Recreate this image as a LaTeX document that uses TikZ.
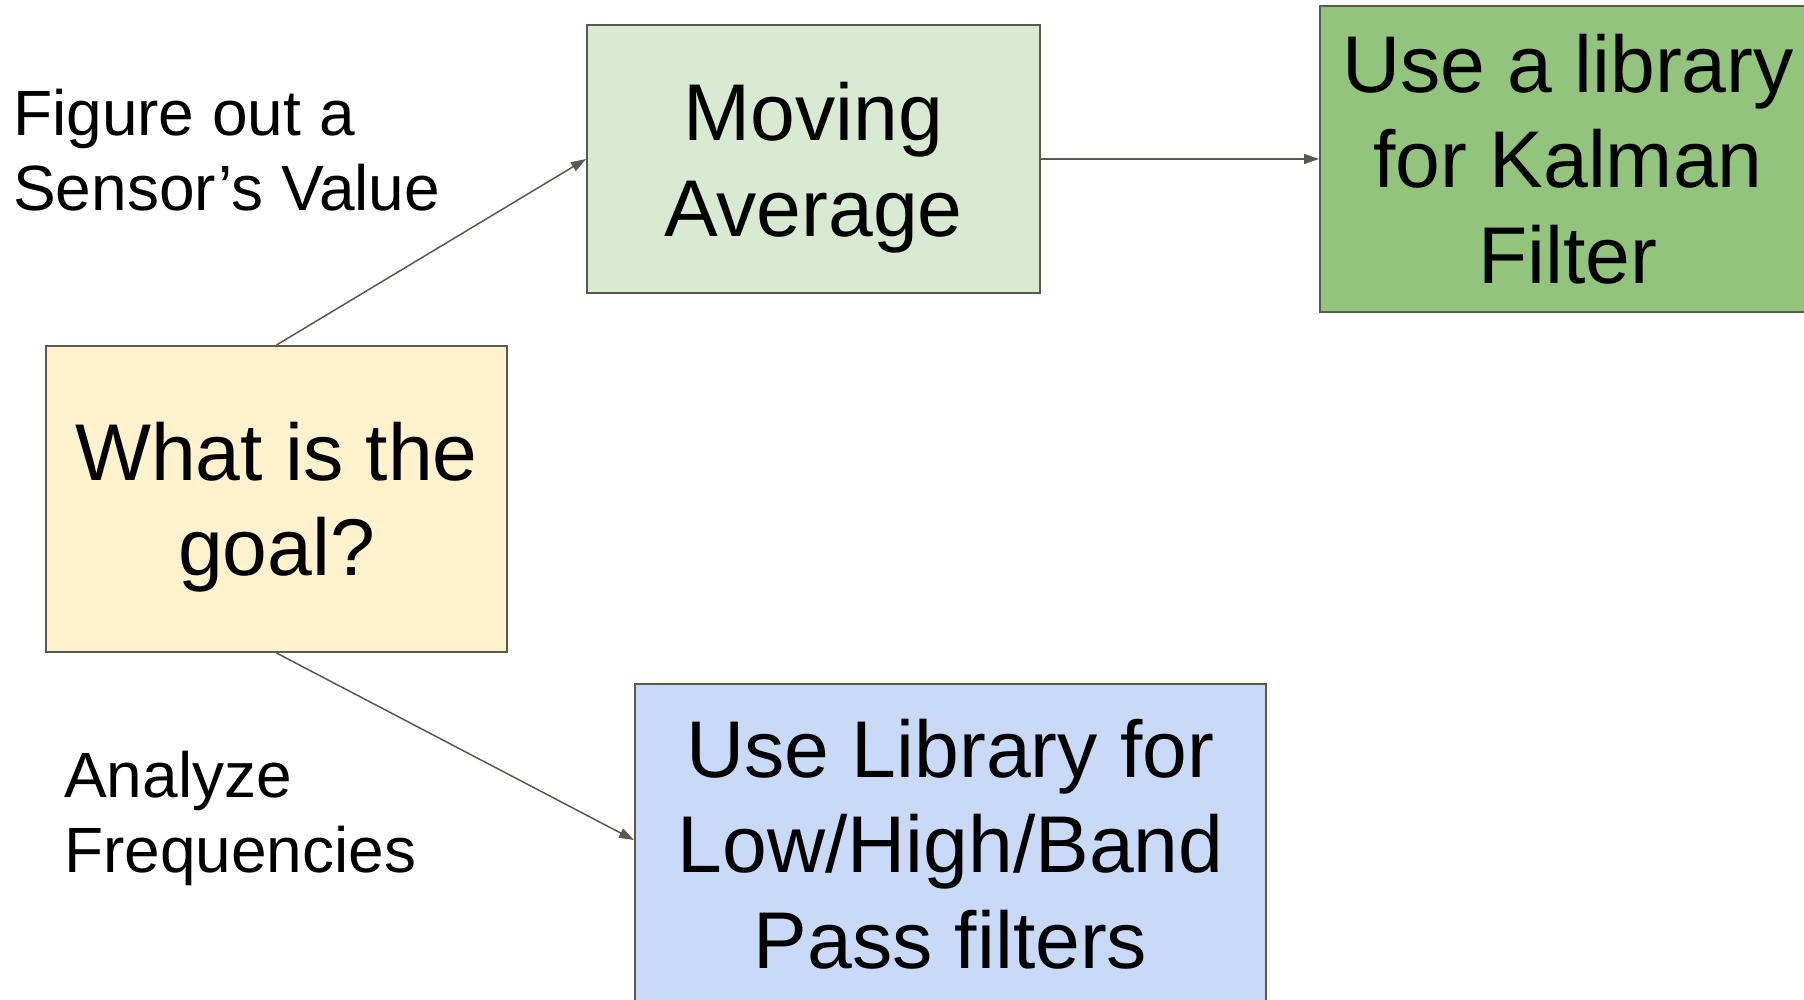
\documentclass[tikz,border=0pt]{standalone}
\usepackage{fontspec}
\setmainfont{Liberation Sans}
\usetikzlibrary{arrows.meta}
\definecolor{edge}{RGB}{89,89,80}
\definecolor{magreen}{HTML}{D9EAD3}
\definecolor{kgreen}{HTML}{93C47D}
\definecolor{ylw}{HTML}{FFF2CC}
\definecolor{blu}{HTML}{C9DAF8}
\begin{document}
\begin{tikzpicture}[x=1pt,y=-1pt,
  box/.style={draw=edge, line width=2pt, inner sep=0pt, align=center, anchor=north west,
    font=\fontsize{80.5}{95.5}\selectfont},
  lbl/.style={inner sep=0pt, align=left, anchor=north west,
    font=\fontsize{64}{75}\selectfont},
  conn/.style={draw=edge, line width=1.5pt, -{Triangle[length=15pt,width=10pt]}}]
\useasboundingbox (0,0) rectangle (1804,999);
\clip (0,0) rectangle (1804,999);
\fill[white] (0,0) rectangle (1804,999);
\node[box, fill=magreen, minimum width=453pt, minimum height=268pt] (ma) at (586,24)
  {\rule{0pt}{79pt}Moving\\Average\rule[-20pt]{0pt}{20pt}};
\node[box, fill=kgreen, minimum width=496pt, minimum height=306pt] (kal) at (1319,5)
  {\rule{0pt}{77pt}Use a library\\for Kalman\\Filter\rule[-20pt]{0pt}{20pt}};
\node[box, fill=ylw, minimum width=461pt, minimum height=306pt] (yel) at (45,345)
  {\rule{0pt}{78pt}What is the\\goal?\rule[-20pt]{0pt}{20pt}};
\node[box, fill=blu, minimum width=631pt, minimum height=327pt] (blu) at (634,683)
  {\rule{0pt}{70pt}Use Library for\\Low/High/Band\\Pass filters\rule[-20pt]{0pt}{20pt}};
\node[lbl] (l1) at (13,75) {\rule{0pt}{60pt}Figure out a\\Sensor’s Value};
\node[lbl] (l2) at (64,737) {\rule{0pt}{60pt}Analyze\\Frequencies};
\draw[conn] (yel.north) -- (ma.west);
\draw[conn] (ma.east) -- (kal.west);
\draw[conn] (yel.south) -- ([yshift=-157pt]blu.north west);
\end{tikzpicture}
\end{document}
